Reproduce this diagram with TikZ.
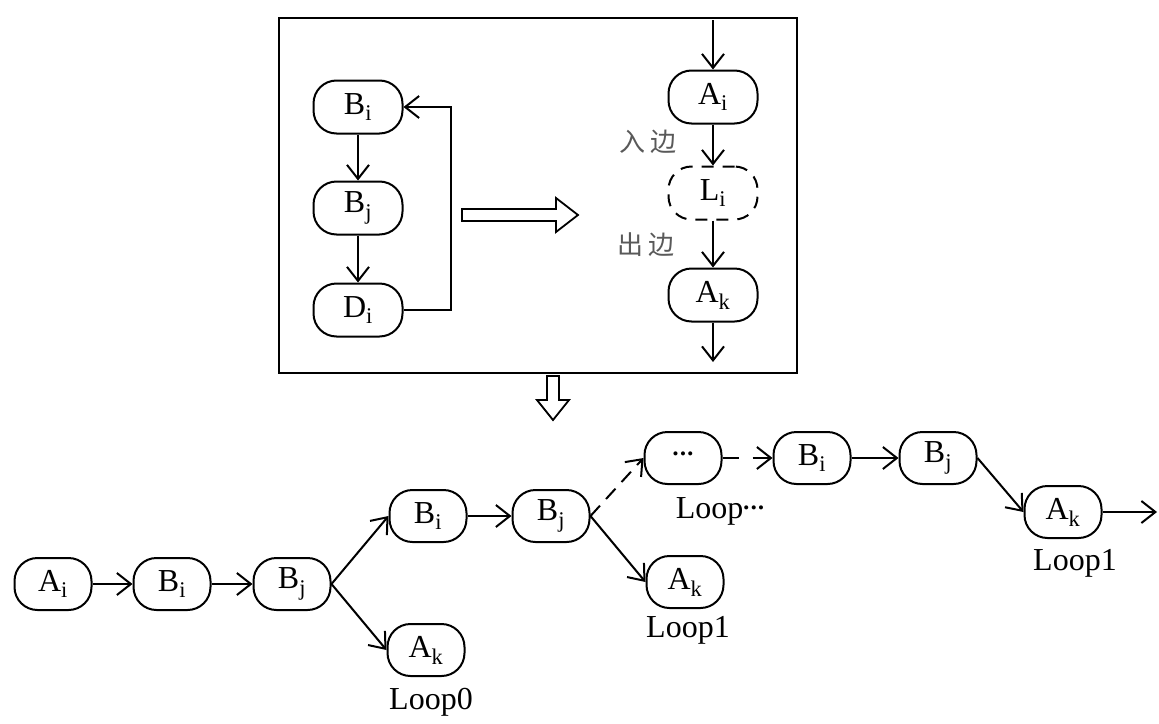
\documentclass[tikz,border=0pt]{standalone}
\usepackage{fontspec}
\setmainfont{Liberation Serif}
\newfontfamily\cjk{Noto Sans CJK SC}
\usetikzlibrary{arrows.meta}

\newcommand{\dotrow}{\raisebox{0.3ex}{\fontsize{17}{17}\selectfont
  \textbullet\hspace{1.5pt}\textbullet\hspace{1.5pt}\textbullet}}

\begin{document}
\begin{tikzpicture}[
  x=1pt, y=-1pt,
  every path/.style={line width=2pt},
  blk/.style={draw, rectangle, rounded corners=23pt, minimum width=77pt,
    minimum height=52pt, inner sep=0pt, font=\fontsize{32}{34}\selectfont},
  wideblk/.style={blk, minimum width=89pt, minimum height=53pt},
  lbl/.style={inner sep=0pt, font=\fontsize{32}{34}\selectfont},
  edgelbl/.style={inner sep=0pt, text=black!65, font=\cjk\fontsize{26}{28}\selectfont},
  hollow/.style={draw, line width=1.8pt, fill=white},
]
\tikzset{>={Straight Barb[length=14pt, width=22pt]}}

\useasboundingbox (0,0) rectangle (1159,723);

% Frame
\draw (279,18) rectangle (797,373);

% Loop body (left)
\node[wideblk] (tbi) at (358,107) {B\textsubscript{i}};
\node[wideblk] (tbj) at (358,208) {B\textsubscript{j}};
\node[wideblk] (tdi) at (358,310) {D\textsubscript{i}};

% Reduced form (right)
\node[wideblk] (tai) at (713,97)  {A\textsubscript{i}};
\node[wideblk, dash pattern=on 12pt off 9pt] (tli) at (713,193) {L\textsubscript{i}};
\node[wideblk] (tak) at (713,295) {A\textsubscript{k}};
\coordinate (tin)  at (713,20);
\coordinate (tout) at (713,362);

\node[edgelbl] (inlbl)  at (648,142) {入\hspace{6pt}边};
\node[edgelbl] (outlbl) at (646,245) {出\hspace{6pt}边};

% Edges (top)
\draw[->] (tbi) -- (tbj);
\draw[->] (tbj) -- (tdi);
\draw[->] (tdi.east) -- ++(47,0) |- (tbi.east);
\draw[->] (tin) -- (tai);
\draw[->] (tai) -- (tli);
\draw[->] (tli) -- (tak);
\draw[->] (tak) -- (tout);

% Hollow arrows
\draw[hollow] (462,209) -- (556,209) -- (556,198) -- (578,215)
  -- (556,232) -- (556,221) -- (462,221) -- cycle;
\draw[hollow] (547,376) -- (559,376) -- (559,400) -- (569,400)
  -- (553,420) -- (537,400) -- (547,400) -- cycle;

% Nodes (bottom)
\node[blk] (ai0) at (53,584)  {A\textsubscript{i}};
\node[blk] (bi0) at (172,584) {B\textsubscript{i}};
\node[blk] (bj0) at (292,584) {B\textsubscript{j}};
\node[blk] (bi1) at (428,516) {B\textsubscript{i}};
\node[blk] (bj1) at (551,516) {B\textsubscript{j}};
\node[blk] (ak0) at (426,650) {A\textsubscript{k}};
\node[blk] (dots) at (683,458) {\dotrow};
\node[blk] (ak1) at (685,582) {A\textsubscript{k}};
\node[blk] (bi2) at (812,458) {B\textsubscript{i}};
\node[blk] (bj2) at (938,458) {B\textsubscript{j}};
\node[blk] (ak2) at (1063,512) {A\textsubscript{k}};
\coordinate (end) at (1157,512);

% Labels
\node[lbl] (l0)   at (431,702)  {Loop0};
\node[lbl] (l1)   at (688,630)  {Loop1};
\node[lbl] (ldot) at (720,511)  {Loop\dotrow};
\node[lbl] (l2)   at (1075,563) {Loop1};

% Edges (bottom)
\draw[->] (ai0) -- (bi0);
\draw[->] (bi0) -- (bj0);
\draw[->] (bj0.east) -- (bi1.west);
\draw[->] (bj0.east) -- (ak0.west);
\draw[->] (bi1) -- (bj1);
\draw[->, dash pattern=on 14pt off 9pt] (bj1.east) -- (dots.west);
\draw[->] (bj1.east) -- (ak1.west);
\draw[->, dash pattern=on 16pt off 14pt] (dots) -- (bi2);
\draw[->] (bi2) -- (bj2);
\draw[->] (bj2.east) -- (ak2.west);
\draw[->] (ak2) -- (end);

\end{tikzpicture}
\end{document}
